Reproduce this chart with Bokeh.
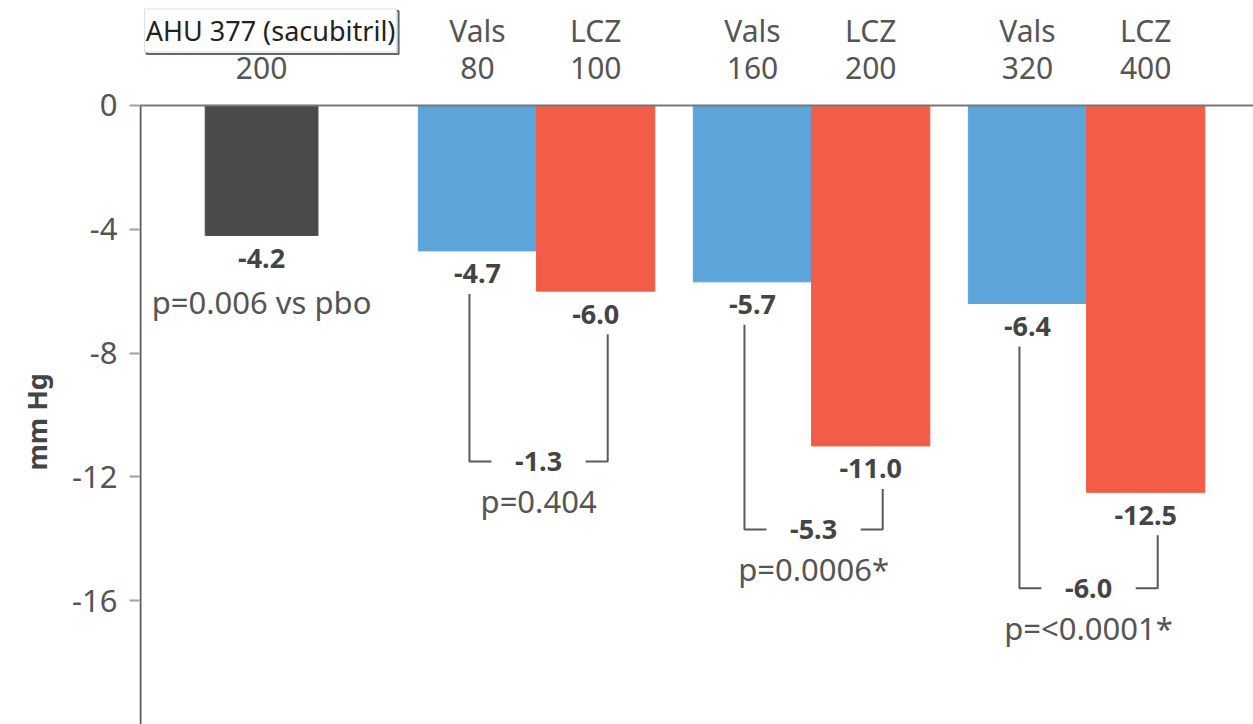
from bokeh.plotting import figure
from bokeh.models import Range1d, FixedTicker, Span, Title
from bokeh.core.properties import value
from bokeh.embed import file_html
from bokeh.resources import INLINE

# ---- data ----
sac_name = "AHU 377 (sacubitril)"
sac_dose = "200"
sac_change = -4.2
sac_p = "p=0.006 vs pbo"

vals_doses = ["80", "160", "320"]
lcz_doses = ["100", "200", "400"]
vals_change = [-4.7, -5.7, -6.4]
lcz_change = [-6.0, -11.0, -12.5]
diff_change = [-1.3, -5.3, -6.0]
diff_p = ["p=0.404", "p=0.0006*", "p=<0.0001*"]
y_ticks = [0, -4, -8, -12, -16]

# ---- layout ----
W, H = 1253, 724
LEFT = 139
Y_TOP, Y_BOT = 3.39, -20.0
X_START, X_END = 0.556, 4.607
PX_X = (W - LEFT) / (X_END - X_START)
PX_Y = H / (Y_TOP - Y_BOT)

def dy(px):
    return px / PX_Y

def dx(px):
    return px / PX_X

sac_x = 1.0
group_x = [2.0, 3.0, 4.0]
BAR_W = 0.43
SAC_W = 0.41
bracket_level = [-11.5, -13.7, -15.6]

FONT = value("Noto Sans")
GREY = "#555555"
DARK = "#444444"
C_SAC = "#4b4b4d"
C_VALS = "#5ca4da"
C_LCZ = "#f25d48"

p = figure(width=W, height=H, output_backend="svg", toolbar_location=None,
           x_range=Range1d(X_START, X_END), y_range=Range1d(Y_BOT, Y_TOP),
           x_axis_location=None, min_border_left=LEFT, min_border_right=0,
           min_border_top=0, min_border_bottom=0)
p.outline_line_color = None
p.grid.visible = False
p.background_fill_color = "white"
p.border_fill_color = "white"

# bars
vals_x = [g - BAR_W / 2 for g in group_x]
lcz_x = [g + BAR_W / 2 for g in group_x]
p.vbar(x=[sac_x], top=[0], bottom=[sac_change], width=SAC_W, color=C_SAC)
p.vbar(x=vals_x, top=[0] * 3, bottom=vals_change, width=BAR_W, color=C_VALS)
p.vbar(x=lcz_x, top=[0] * 3, bottom=lcz_change, width=BAR_W, color=C_LCZ)

# zero line and y axis line
p.add_layout(Span(location=0, dimension="width", line_color="#777777", line_width=2))
p.segment(x0=[X_START + dx(1)], y0=[0], x1=[X_START + dx(1)], y1=[Y_BOT],
          line_color="#5a5a5a", line_width=2)

# y axis
ax = p.yaxis[0]
ax.ticker = FixedTicker(ticks=y_ticks)
ax.major_label_overrides = {t: str(t) for t in y_ticks}
ax.axis_line_color = None
ax.major_tick_line_color = "#a0a0a0"
ax.major_tick_line_width = 2
ax.major_tick_out = 10
ax.major_tick_in = 0
ax.minor_tick_line_color = None
ax.major_label_standoff = 12
ax.major_label_text_font = "Noto Sans"
ax.major_label_text_font_size = "31px"
ax.major_label_text_color = GREY

# axis title, placed along the drawn part of the axis
p.add_layout(Title(text="mm Hg", align="left", vertical_align="top",
                   offset=254, standoff=26,
                   text_font="Noto Sans", text_font_style="bold",
                   text_font_size="27px", text_color=DARK), "left")

# header labels above the zero line
row1 = Y_TOP - dy(30)
row2 = Y_TOP - dy(67)
box_x = sac_x + dx(9)
p.rect(x=[box_x + dx(2)], y=[row1 - dy(2)], width=dx(252), height=dy(43),
       fill_color=None, line_color="#666666", line_width=2)
p.rect(x=[box_x], y=[row1], width=dx(252), height=dy(43),
       fill_color="white", line_color="#cfe3ea", line_width=1)
p.text(x=[box_x], y=[row1], text=[sac_name], text_align="center",
       text_baseline="middle", text_font=FONT, text_font_size="27px",
       text_color="#222222")
head_x = [sac_x] + vals_x + lcz_x
p.text(x=head_x[1:], y=[row1] * 6, text=["Vals"] * 3 + ["LCZ"] * 3,
       text_align="center", text_baseline="middle", text_font=FONT,
       text_font_size="30px", text_color=GREY)
p.text(x=head_x, y=[row2] * 7, text=[sac_dose] + vals_doses + lcz_doses,
       text_align="center", text_baseline="middle", text_font=FONT,
       text_font_size="30px", text_color=GREY)

# value labels under the bars
bar_x = [sac_x] + vals_x + lcz_x
bar_v = [sac_change] + vals_change + lcz_change
p.text(x=bar_x, y=[v - dy(23) for v in bar_v], text=[f"{v:.1f}" for v in bar_v],
       text_align="center", text_baseline="middle", text_font=FONT,
       text_font_size="27px", text_font_style="bold", text_color=DARK)
p.text(x=[sac_x], y=[sac_change - dy(67)], text=[sac_p], text_align="center",
       text_baseline="middle", text_font=FONT, text_font_size="31px",
       text_color=GREY)

# comparison brackets
xs, ys = [], []
mid_x = []
for i in range(3):
    xl = vals_x[i] - dx(8)
    xr = lcz_x[i] + dx(12)
    lvl = bracket_level[i]
    top_l = vals_change[i] - dy(43)
    top_r = lcz_change[i] - dy(43)
    xs += [[xl, xl, xl + dx(22)], [xr - dx(22), xr, xr]]
    ys += [[top_l, lvl, lvl], [lvl, lvl, top_r]]
    mid_x.append((xl + xr) / 2)
p.multi_line(xs=xs, ys=ys, line_color="#5a5a5a", line_width=2)
p.text(x=mid_x, y=bracket_level, text=[f"{v:.1f}" for v in diff_change],
       text_align="center", text_baseline="middle", text_font=FONT,
       text_font_size="27px", text_font_style="bold", text_color=DARK)
p.text(x=mid_x, y=[b - dy(40) for b in bracket_level], text=diff_p,
       text_align="center", text_baseline="middle", text_font=FONT,
       text_font_size="31px", text_color=GREY)

open("out.html", "w").write(file_html(p, INLINE))
